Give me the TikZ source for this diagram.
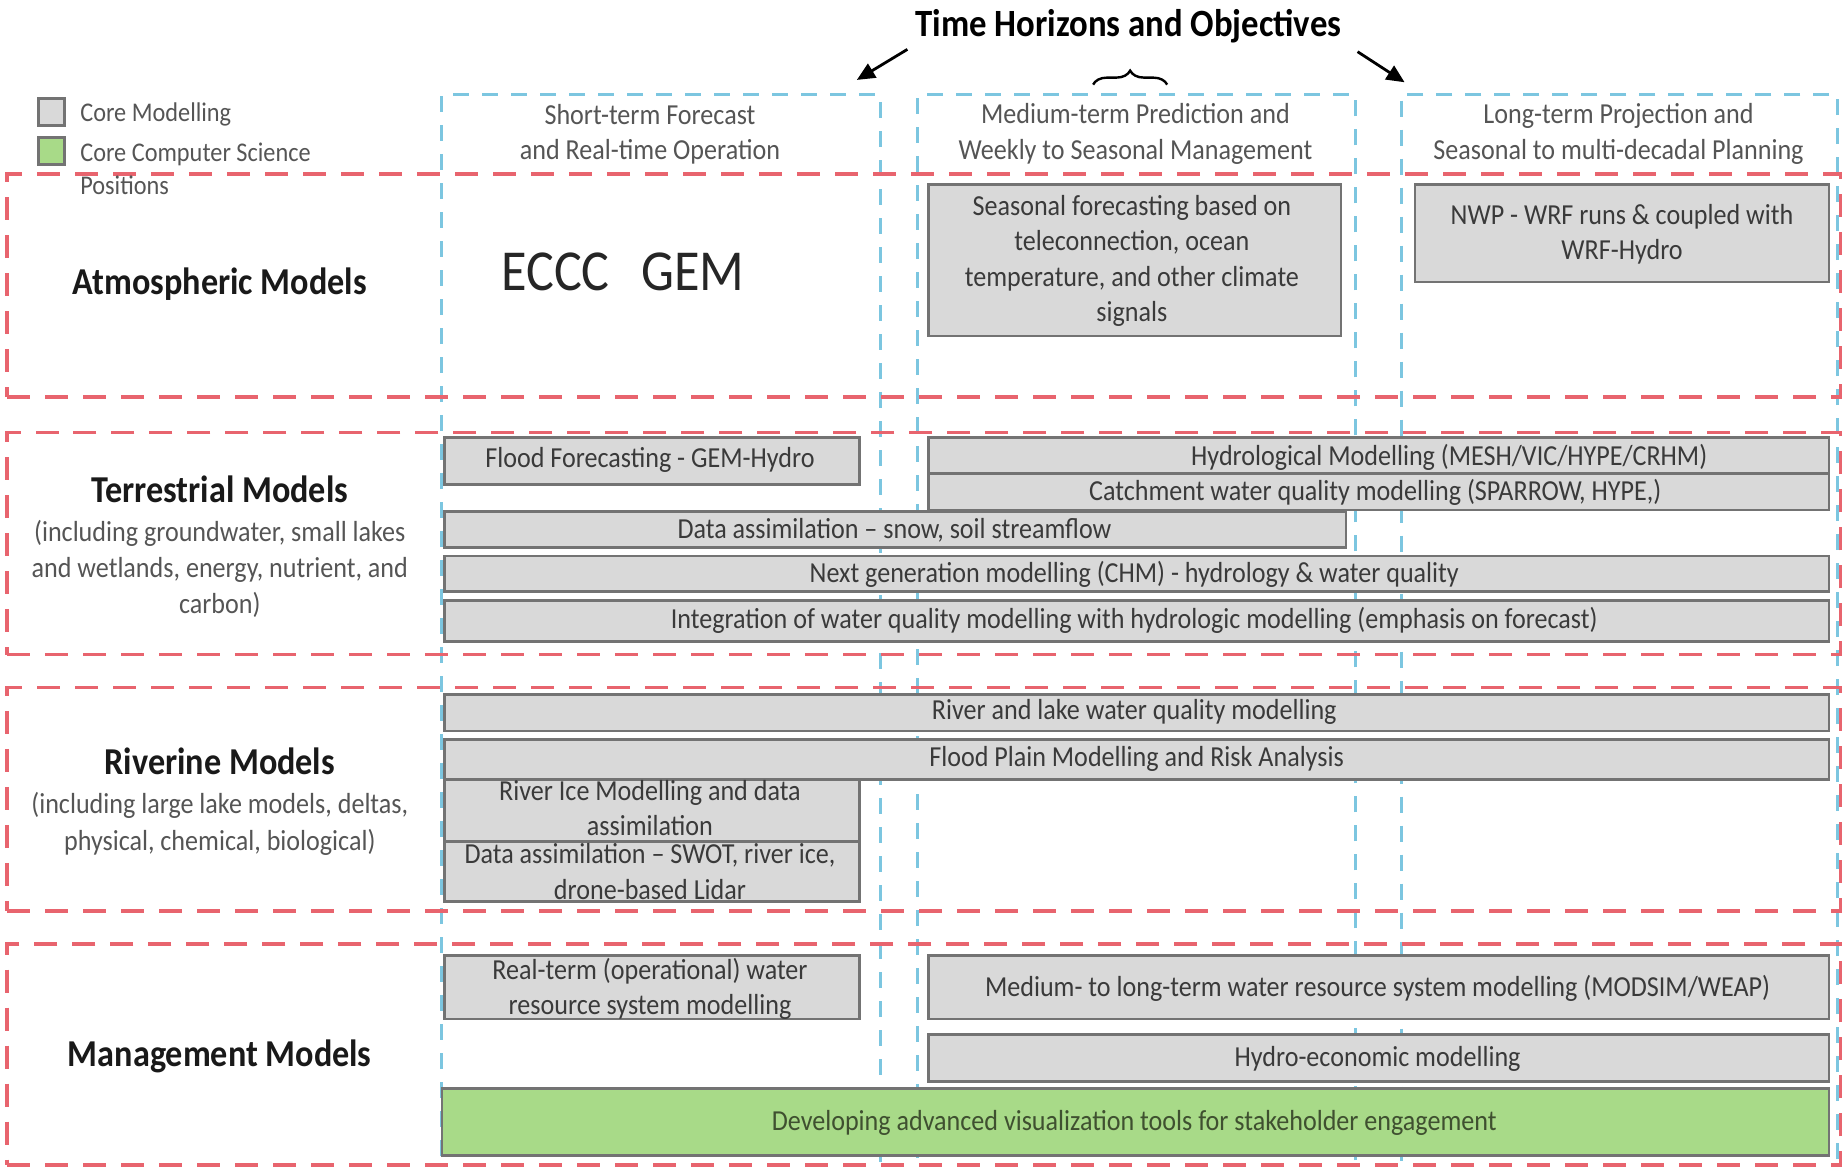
\documentclass[tikz,border=0pt]{standalone}
\usepackage{fontspec}
\setmainfont[FakeStretch=0.9]{Carlito}
\usetikzlibrary{arrows.meta,decorations.pathreplacing,fit}
\definecolor{redd}{HTML}{E8646E}
\definecolor{blued}{HTML}{7CC6E0}
\definecolor{boxfill}{HTML}{D9D9D9}
\definecolor{boxline}{HTML}{737373}
\definecolor{greenfill}{HTML}{A8DA88}
\definecolor{txtdark}{HTML}{3A3A3A}
\definecolor{txtgray}{HTML}{555555}
\definecolor{greentxt}{HTML}{3F5030}
\begin{document}
\begin{tikzpicture}[x=0.5877pt,y=-0.5877pt,
  rowbox/.style={draw=redd, line width=1.8pt, dash pattern=on 11.5pt off 7.5pt, inner sep=0pt},
  colbox/.style={draw=blued, line width=1.5pt, dash pattern=on 8pt off 6.5pt, inner sep=0pt},
  gbox/.style={draw=boxline, fill=boxfill, line width=1.3pt, inner sep=0pt},
  vbox/.style={draw=boxline, fill=greenfill, line width=1.3pt, inner sep=0pt},
  btxt/.style={text=txtdark, font=\fontsize{14.5}{17.6}\selectfont, align=center, inner sep=0pt},
  htxt/.style={text=txtgray, font=\fontsize{14.5}{17.6}\selectfont, align=center, inner sep=0pt},
  labtxt/.style={text=black!90, font=\bfseries\fontsize{19}{23}\selectfont, align=center, inner sep=0pt},
  subtxt/.style={text=txtgray, font=\fontsize{14.5}{18.2}\selectfont, align=center, inner sep=0pt},
  legtxt/.style={text=txtgray, font=\fontsize{13.5}{16.5}\selectfont, align=left, inner sep=0pt, anchor=west},
  arr/.style={line width=1.4pt, -{Triangle[length=9pt,width=8pt]}}
]
\useasboundingbox (0,0) rectangle (1568,993);
\clip (0,0) rectangle (1568,993);

% columns (time horizons)
\node[colbox, fit={(376,80) (749,1010)}] (col1) {};
\node[colbox, fit={(781,80) (1153,1010)}] (col2) {};
\node[colbox, fit={(1192,80) (1563,1010)}] (col3) {};

% rows (model groups)
\node[rowbox, fit={(6,148) (1566,338)}] (row1) {};
\node[rowbox, fit={(6,368) (1566,557)}] (row2) {};
\node[rowbox, fit={(6,585) (1566,775)}] (row3) {};
\node[rowbox, fit={(6,803) (1566,991)}] (row4) {};

% title, arrows, brace
\node[font=\bfseries\fontsize{19.3}{23}\selectfont, inner sep=0pt] (title) at (960,22) {Time Horizons and Objectives};
\coordinate (la0) at (772,42);
\coordinate (la1) at (729,68);
\coordinate (ra0) at (1155,44);
\coordinate (ra1) at (1195,70);
\draw[arr] (la0) -- (la1);
\draw[arr] (ra0) -- (ra1);
\coordinate (br0) at (930,72);
\coordinate (br1) at (993,72);
\draw[line width=1.2pt, decorate, decoration={brace, amplitude=7pt}] (br0) -- (br1);

% legend
\node[gbox, fit={(33,84) (55,107)}] (legcore) {};
\node[vbox, fit={(33,117) (55,140)}] (legcs) {};
\node[legtxt] (legcore-t) at (68,97) {Core Modelling};
\node[legtxt] (legcs-t) at (68,144) {Core Computer Science\\Positions};

% column headers
\node[htxt] (h1) at (553,114) {Short-term Forecast\\and Real-time Operation};
\node[htxt] (h2) at (966,114) {Medium-term Prediction and\\Weekly to Seasonal Management};
\node[htxt] (h3) at (1377,114) {Long-term Projection and\\Seasonal to multi-decadal Planning};

% row labels
\node[labtxt] (atm-lab) at (187,242) {Atmospheric Models};
\node[labtxt] (ter-lab) at (187,416) {Terrestrial Models};
\node[subtxt] (ter-sub) at (187,484) {(including groundwater, small lakes\\and wetlands, energy, nutrient, and\\carbon)};
\node[labtxt] (riv-lab) at (187,648) {Riverine Models};
\node[subtxt] (riv-sub) at (187,701) {(including large lake models, deltas,\\physical, chemical, biological)};
\node[labtxt] (man-lab) at (187,899) {Management Models};

% atmospheric
\node[text=black!85, font=\fontsize{29}{34}\selectfont, inner sep=0pt] (eccc) at (530,231) {ECCC\hspace{0.55em}GEM};
\node[gbox, fit={(790,157) (1141,286)}] (atm-seas) {};
\node[btxt] (atm-seas-t) at (963,222) {Seasonal forecasting based on\\teleconnection, ocean\\temperature, and other climate\\signals};
\node[gbox, fit={(1204,157) (1556,240)}] (atm-nwp) {};
\node[btxt] (atm-nwp-t) at (1380,199.5) {NWP - WRF runs \& coupled with\\WRF-Hydro};

% terrestrial
\node[gbox, fit={(378,372) (731,412)}] (ter-flood) {};
\node[btxt] (ter-flood-t) at (553,391) {Flood Forecasting - GEM-Hydro};
\node[gbox, fit={(790,372) (1556,403)}] (ter-hydro) {};
\node[btxt] (ter-hydro-t) at (1233,389) {Hydrological Modelling (MESH/VIC/HYPE/CRHM)};
\node[gbox, fit={(790,403) (1556,434)}] (ter-catch) {};
\node[btxt] (ter-catch-t) at (1170,419) {Catchment water quality modelling (SPARROW, HYPE,)};
\node[gbox, fit={(378,435) (1145,466)}] (ter-da) {};
\node[btxt] (ter-da-t) at (761,451) {Data assimilation – snow, soil streamflow};
\node[gbox, fit={(378,473) (1556,503)}] (ter-next) {};
\node[btxt] (ter-next-t) at (965,489) {Next generation modelling (CHM) - hydrology \& water quality};
\node[gbox, fit={(378,511) (1556,546)}] (ter-integ) {};
\node[btxt] (ter-integ-t) at (965,528) {Integration of water quality modelling with hydrologic modelling (emphasis on forecast)};

% riverine
\node[gbox, fit={(378,591) (1556,622)}] (riv-qual) {};
\node[btxt] (riv-qual-t) at (965,606) {River and lake water quality modelling};
\node[gbox, fit={(378,629) (1556,663)}] (riv-flood) {};
\node[btxt] (riv-flood-t) at (967,646) {Flood Plain Modelling and Risk Analysis};
\node[gbox, fit={(378,663) (731,716)}] (riv-ice) {};
\node[btxt] (riv-ice-t) at (553,687.5) {River Ice Modelling and data\\assimilation};
\node[gbox, fit={(378,716) (731,767)}] (riv-da) {};
\node[btxt] (riv-da-t) at (553,741.5) {Data assimilation – SWOT, river ice,\\drone-based Lidar};

% management
\node[gbox, fit={(378,813) (731,867)}] (man-real) {};
\node[btxt] (man-real-t) at (553,841.5) {Real-term (operational) water\\resource system modelling};
\node[gbox, fit={(790,813) (1556,867)}] (man-med) {};
\node[btxt] (man-med-t) at (1172,841) {Medium- to long-term water resource system modelling (MODSIM/WEAP)};
\node[gbox, fit={(790,880) (1556,920)}] (man-hyd) {};
\node[btxt] (man-hyd-t) at (1172,901) {Hydro-economic modelling};
\node[vbox, fit={(376,926) (1556,983)}] (man-vis) {};
\node[btxt, text=greentxt] (man-vis-t) at (965,955) {Developing advanced visualization tools for stakeholder engagement};
\end{tikzpicture}
\end{document}
